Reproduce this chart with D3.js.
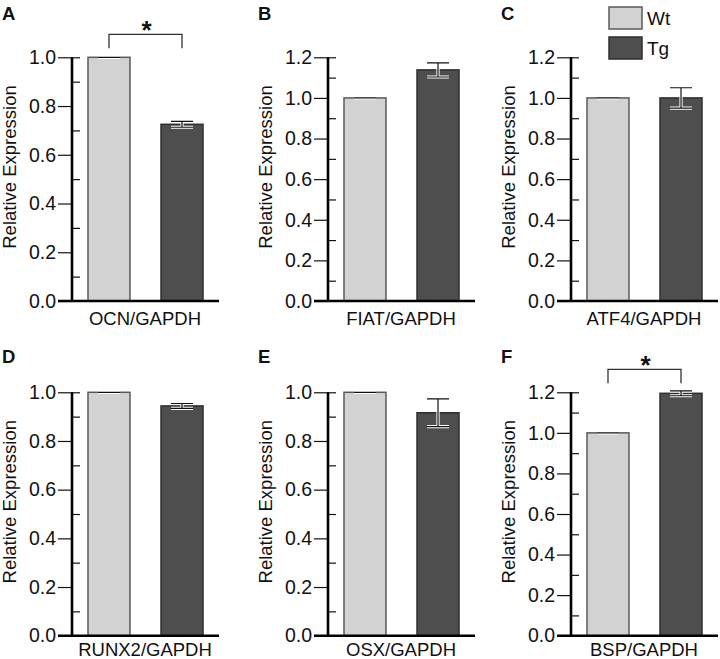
<!DOCTYPE html>
<html>
<head>
<meta charset="utf-8">
<script src="https://cdn.jsdelivr.net/npm/d3@7"></script>
<style>
  html, body { margin: 0; padding: 0; background: #fff; }
  svg { display: block; }
  text { font-family: "Liberation Sans", Arial, Helvetica, sans-serif; fill: #111; }
</style>
</head>
<body>
<svg id="chart" width="720" height="659"></svg>
<script>
// ---- data ----
const panelLetters = ["A", "B", "C", "D", "E", "F"];
const geneLabels = ["OCN/GAPDH", "FIAT/GAPDH", "ATF4/GAPDH", "RUNX2/GAPDH", "OSX/GAPDH", "BSP/GAPDH"];
const groups = ["Wt", "Tg"];
const wtValues = [1.0, 1.0, 1.0, 1.0, 1.0, 1.0];
const wtErrors = [0, 0, 0, 0, 0, 0];
const tgValues = [0.725, 1.138, 1.0, 0.944, 0.916, 1.195];
const tgErrors = [0.012, 0.035, 0.05, 0.01, 0.057, 0.012];
const yMaxes = [1.0, 1.2, 1.2, 1.0, 1.0, 1.2];
const significant = [true, false, false, false, false, true];
const yLabel = "Relative Expression";

// ---- layout ----
const svg = d3.select("#chart");
const colAxisX = [72, 328, 571];
const rowY0 = [301, 635.7];
const rowTop = [57.3, 392.3];
const rowLetterY = [19.5, 363.3];
const rowXLabelY = [325, 656];
const plotWidth = 147;
const fills = { Wt: "#d2d2d2", Tg: "#4e4e4e" };
const strokes = { Wt: "#5a5a5a", Tg: "#2e2e2e" };

panelLetters.forEach((letter, i) => {
  const col = i % 3, row = Math.floor(i / 3);
  const ax = colAxisX[col], y0 = rowY0[row], yt = rowTop[row];
  const g = svg.append("g");

  const x = d3.scaleBand().domain(groups).range([ax, ax + plotWidth])
    .paddingInner(0.425).paddingOuter(0.219);
  const y = d3.scaleLinear().domain([0, yMaxes[i]]).range([y0, yt]);

  const majors = d3.range(0, yMaxes[i] + 1e-9, 0.2);
  const minors = d3.range(0.1, yMaxes[i], 0.2).concat([yMaxes[i]]);

  // bars
  const vals = [wtValues[i], tgValues[i]];
  const errs = [wtErrors[i], tgErrors[i]];
  const data = groups.map((k, j) => ({ k, v: vals[j], e: errs[j] }));

  g.selectAll("rect.bar").data(data).enter().append("rect")
    .attr("x", d => x(d.k)).attr("width", x.bandwidth())
    .attr("y", d => y(d.v)).attr("height", d => y0 - y(d.v))
    .attr("fill", d => fills[d.k]).attr("stroke", d => strokes[d.k]).attr("stroke-width", 1.5);

  // error bars (white halo + dark line)
  const capW = 11;
  [{ c: "#fff", w: 3.2 }, { c: "#111", w: 1.2 }].forEach(st => {
    data.forEach(d => {
      const cx = x(d.k) + x.bandwidth() / 2;
      const yHi = y(d.v + d.e), yLo = y(d.v - d.e);
      const path = d3.path();
      path.moveTo(cx, yHi); path.lineTo(cx, yLo);
      path.moveTo(cx - capW, yHi); path.lineTo(cx + capW, yHi);
      path.moveTo(cx - capW, yLo); path.lineTo(cx + capW, yLo);
      g.append("path").attr("d", path.toString()).attr("fill", "none")
        .attr("stroke", st.c).attr("stroke-width", st.w);
    });
  });

  // y axis: outward major ticks with labels
  const yAxis = d3.axisLeft(y).tickValues(majors).tickFormat(d3.format(".1f"))
    .tickSize(14).tickPadding(2);
  const ga = g.append("g").call(yAxis);
  ga.select(".domain").remove();
  ga.selectAll(".tick line").attr("stroke", "#111").attr("stroke-width", 1.2);
  ga.selectAll(".tick text").attr("font-size", 19.5).style("fill", "#111")
    .attr("font-family", "Liberation Sans, Arial, sans-serif");
  ga.attr("transform", `translate(${ax},0)`);

  // inward minor ticks
  const yAxisMinor = d3.axisRight(y).tickValues(minors).tickFormat("").tickSize(8);
  const gm = g.append("g").attr("transform", `translate(${ax},0)`).call(yAxisMinor);
  gm.select(".domain").remove();
  gm.selectAll(".tick line").attr("stroke", "#111").attr("stroke-width", 1.2);

  // axis lines
  g.append("line").attr("x1", ax).attr("x2", ax).attr("y1", yt).attr("y2", y0 + 1)
    .attr("stroke", "#000").attr("stroke-width", 2.6);
  g.append("line").attr("x1", ax - 14).attr("x2", ax + plotWidth).attr("y1", y0).attr("y2", y0)
    .attr("stroke", "#000").attr("stroke-width", 2.6);

  // x label
  g.append("text").attr("x", ax + plotWidth / 2 - 0.5).attr("y", rowXLabelY[row])
    .attr("text-anchor", "middle").attr("font-size", 18.5).text(geneLabels[i]);

  // y label
  g.append("text")
    .attr("transform", `translate(${ax - 56},${y0 - 134}) rotate(-90)`)
    .attr("text-anchor", "middle").attr("font-size", 18.5).text(yLabel);

  // panel letter
  g.append("text").attr("x", ax - 70).attr("y", rowLetterY[row])
    .attr("font-size", 18.5).attr("font-weight", "bold").text(letter);

  // significance bracket
  if (significant[i]) {
    const x1 = x("Wt") + x.bandwidth() / 2, x2 = x("Tg") + x.bandwidth() / 2;
    const top = yt - 23, bot = yt - 9;
    g.append("path")
      .attr("d", `M${x1},${bot}V${top}H${x2}V${bot}`)
      .attr("fill", "none").attr("stroke", "#333").attr("stroke-width", 1.3);
    g.append("text").attr("x", (x1 + x2) / 2 + 1).attr("y", top + 4.5)
      .attr("text-anchor", "middle").attr("font-size", 26).attr("font-weight", "bold").text("*");
  }
});

// legend
const leg = svg.append("g");
groups.forEach((k, j) => {
  leg.append("rect").attr("x", 609).attr("y", 7 + j * 30).attr("width", 33).attr("height", 22)
    .attr("fill", fills[k]).attr("stroke", strokes[k]).attr("stroke-width", 1.5);
  leg.append("text").attr("x", 647).attr("y", 25 + j * 29.5).attr("font-size", 19).text(k);
});
</script>
</body>
</html>
